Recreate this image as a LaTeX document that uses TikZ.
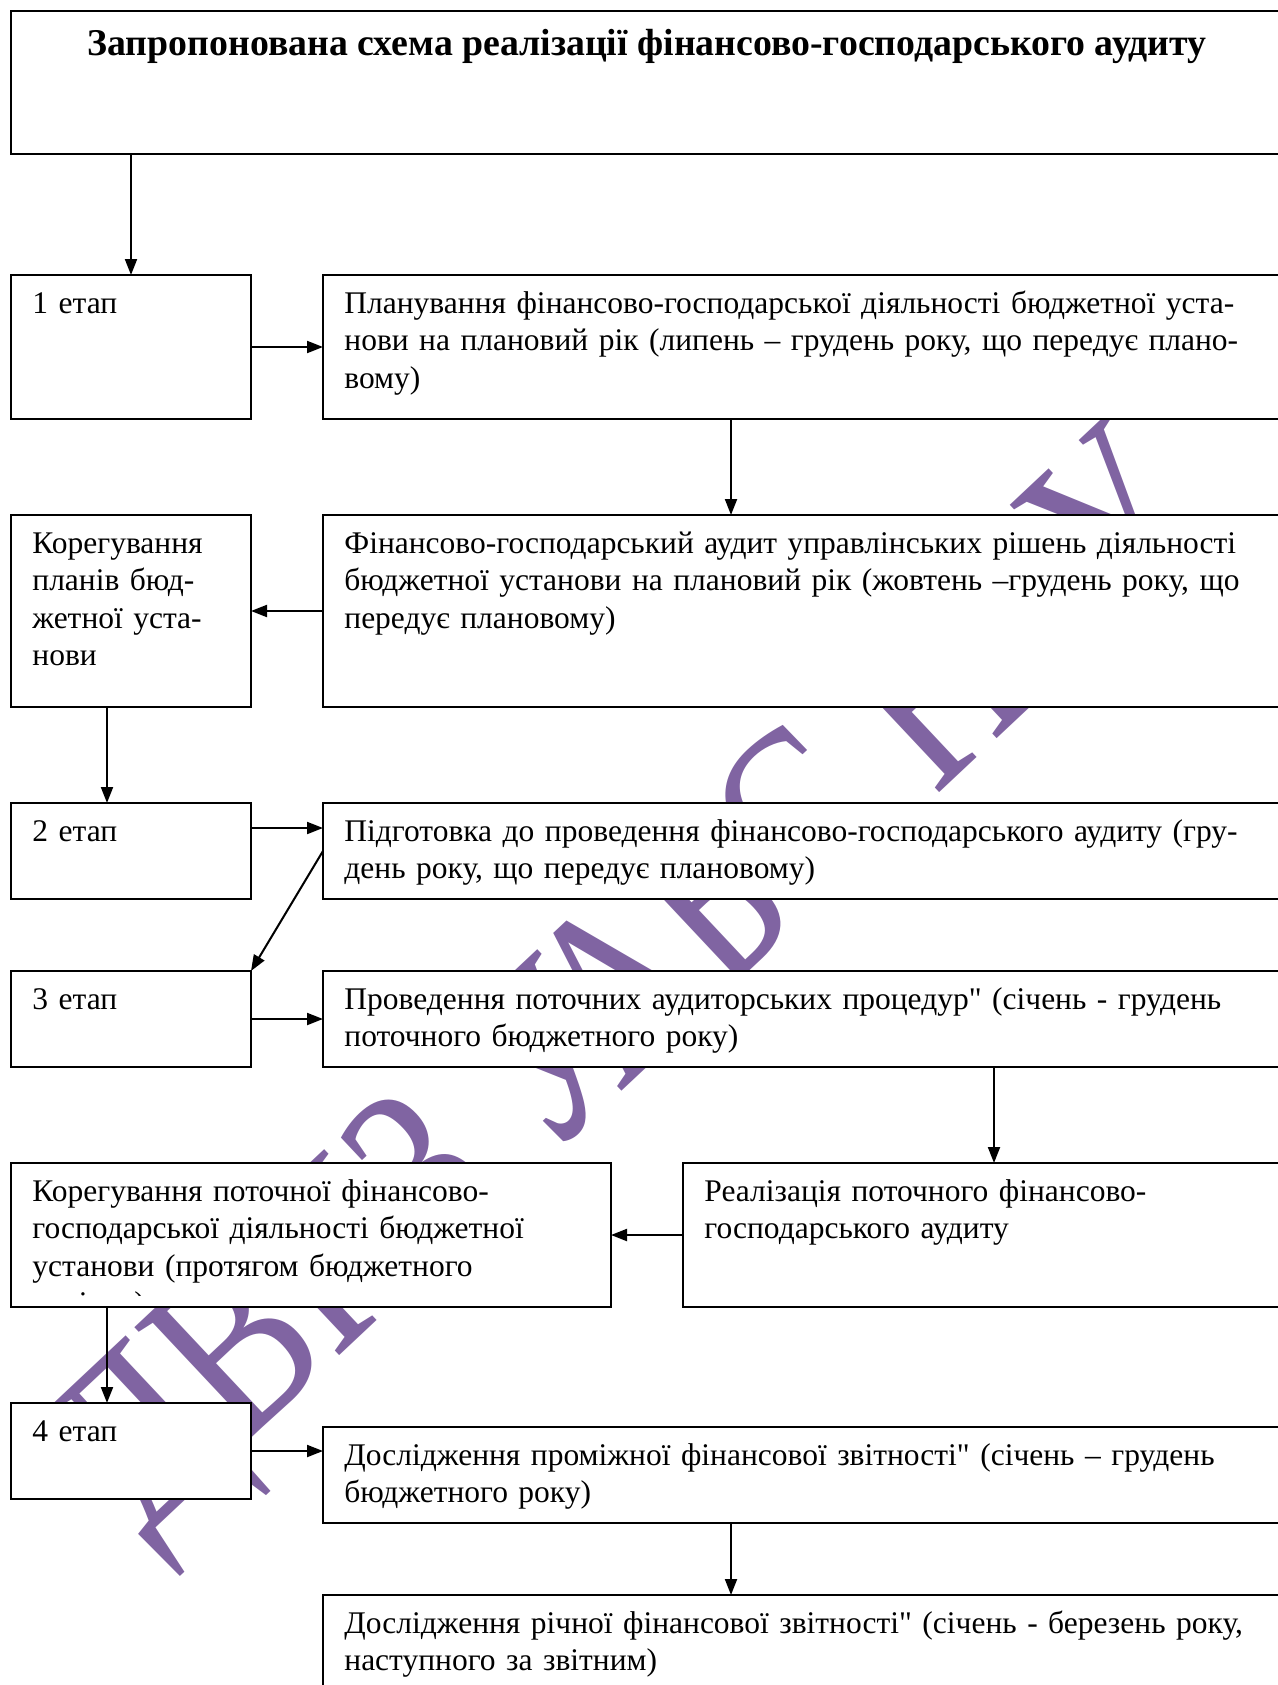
\documentclass[tikz,border=0pt]{standalone}
\usepackage{fontspec}
\setmainfont{Liberation Serif}[Ligatures=TeXOff]
\usetikzlibrary{arrows.meta}
\definecolor{wmark}{RGB}{128,100,162}

\begin{document}
\begin{tikzpicture}[x=0.5pt,y=-0.5pt,
  blk/.style={draw=black, line width=1pt, fill=white, anchor=north west,
    inner sep=0pt, outer sep=0pt},
  conn/.style={draw=black, line width=1pt, -{Triangle[length=8pt,width=6pt]}},
  txt/.style={anchor=base west, inner sep=0pt, align=left, text width=600pt,
    font=\fontsize{15.75}{18.8}\selectfont},
  ttl/.style={anchor=base, inner sep=0pt,
    font=\fontsize{18.9}{22}\selectfont\bfseries},
]
\useasboundingbox (0,0) rectangle (1278,1685);
\clip (0,0) rectangle (1278,1685);

% watermark behind the blocks
\node[rotate=43.2, yscale=1.25, anchor=base west, inner sep=0pt, text=wmark,
  font=\fontsize{98}{98}\selectfont] (wm) at (142.6,1540.5) {ДВНЗ УАБС НБУ};

% blocks
\node[blk, minimum width=636pt, minimum height=71.5pt] (title) at (11,11) {};
\node[blk, minimum width=120pt, minimum height=72pt] (s1) at (11,275) {};
\node[blk, minimum width=480pt, minimum height=72pt] (plan) at (323,275) {};
\node[blk, minimum width=120pt, minimum height=96pt] (kor1) at (11,515) {};
\node[blk, minimum width=480pt, minimum height=96pt] (fin) at (323,515) {};
\node[blk, minimum width=120pt, minimum height=48pt] (s2) at (11,803) {};
\node[blk, minimum width=480pt, minimum height=48pt] (prep) at (323,803) {};
\node[blk, minimum width=120pt, minimum height=48pt] (s3) at (11,971) {};
\node[blk, minimum width=480pt, minimum height=48pt] (cond) at (323,971) {};
\node[blk, minimum width=300pt, minimum height=72pt] (kor2) at (11,1163) {};
\node[blk, minimum width=300pt, minimum height=72pt] (real) at (683,1163) {};
\node[blk, minimum width=120pt, minimum height=48pt] (s4) at (11,1403) {};
\node[blk, minimum width=480pt, minimum height=48pt] (inter) at (323,1427) {};
\node[blk, minimum width=480pt, minimum height=60pt] (annual) at (323,1595) {};

% texts
\node[ttl] (ttitle) at ([yshift=-22.5pt]title.north)
  {Запропонована схема реалізації фінансово-господарського аудиту};
\node[txt] (ts1) at ([xshift=10.5pt,yshift=-19pt]s1.north west) {1 етап};
\node[txt] (tplan) at ([xshift=10.5pt,yshift=-19pt]plan.north west)
  {Планування фінансово-господарської діяльності бюджетної уста-\\
   нови на плановий рік (липень – грудень року, що передує плано-\\
   вому)};
\node[txt] (tkor1) at ([xshift=10.5pt,yshift=-19pt]kor1.north west)
  {Корегування\\планів бюд-\\жетної уста-\\нови};
\node[txt] (tfin) at ([xshift=10.5pt,yshift=-19pt]fin.north west)
  {Фінансово-господарський аудит управлінських рішень діяльності\\
   бюджетної установи на плановий рік (жовтень –грудень року, що\\
   передує плановому)};
\node[txt] (ts2) at ([xshift=10.5pt,yshift=-19pt]s2.north west) {2 етап};
\node[txt] (tprep) at ([xshift=10.5pt,yshift=-19pt]prep.north west)
  {Підготовка до проведення фінансово-господарського аудиту (гру-\\
   день року, що передує плановому)};
\node[txt] (ts3) at ([xshift=10.5pt,yshift=-19pt]s3.north west) {3 етап};
\node[txt] (tcond) at ([xshift=10.5pt,yshift=-19pt]cond.north west)
  {Проведення поточних аудиторських процедур" (січень - грудень\\
   поточного бюджетного року)};
\begin{scope}
  \clip (11,1163) rectangle (611,1295);
  \node[txt] (tkor2) at ([xshift=10.5pt,yshift=-19pt]kor2.north west)
    {Корегування поточної фінансово-\\
     господарської діяльності бюджетної\\
     установи (протягом бюджетного\\
     періоду)};
\end{scope}
\node[txt] (treal) at ([xshift=10.5pt,yshift=-19pt]real.north west)
  {Реалізація поточного фінансово-\\господарського аудиту};
\node[txt] (ts4) at ([xshift=10.5pt,yshift=-19pt]s4.north west) {4 етап};
\node[txt] (tinter) at ([xshift=10.5pt,yshift=-19pt]inter.north west)
  {Дослідження проміжної фінансової звітності" (січень – грудень\\
   бюджетного року)};
\node[txt] (tannual) at ([xshift=10.5pt,yshift=-19pt]annual.north west)
  {Дослідження річної фінансової звітності" (січень - березень року,\\
   наступного за звітним)};

% connectors
\draw[conn] (s1.north |- title.south) -- (s1.north);
\draw[conn] (s1.east) -- (plan.west);
\draw[conn] ([xshift=204pt]plan.south west) -- ([xshift=204pt]fin.north west);
\draw[conn] (fin.west) -- (kor1.east);
\draw[conn] ([xshift=-12pt]kor1.south) -- ([xshift=-12pt]s2.north);
\draw[conn] ([yshift=11.5pt]s2.east) -- ([yshift=11.5pt]prep.west);
\draw[conn] (prep.west) -- (s3.north east);
\draw[conn] (s3.east) -- (cond.west);
\draw[conn] ([xshift=5.5pt]real.north |- cond.south) -- ([xshift=5.5pt]real.north);
\draw[conn] (real.west) -- (kor2.east);
\draw[conn] ([xshift=-12pt]s4.north |- kor2.south) -- ([xshift=-12pt]s4.north);
\draw[conn] (s4.east) -- (s4.east -| inter.west);
\draw[conn] ([xshift=204pt]inter.south west) -- ([xshift=204pt]annual.north west);
\end{tikzpicture}
\end{document}
